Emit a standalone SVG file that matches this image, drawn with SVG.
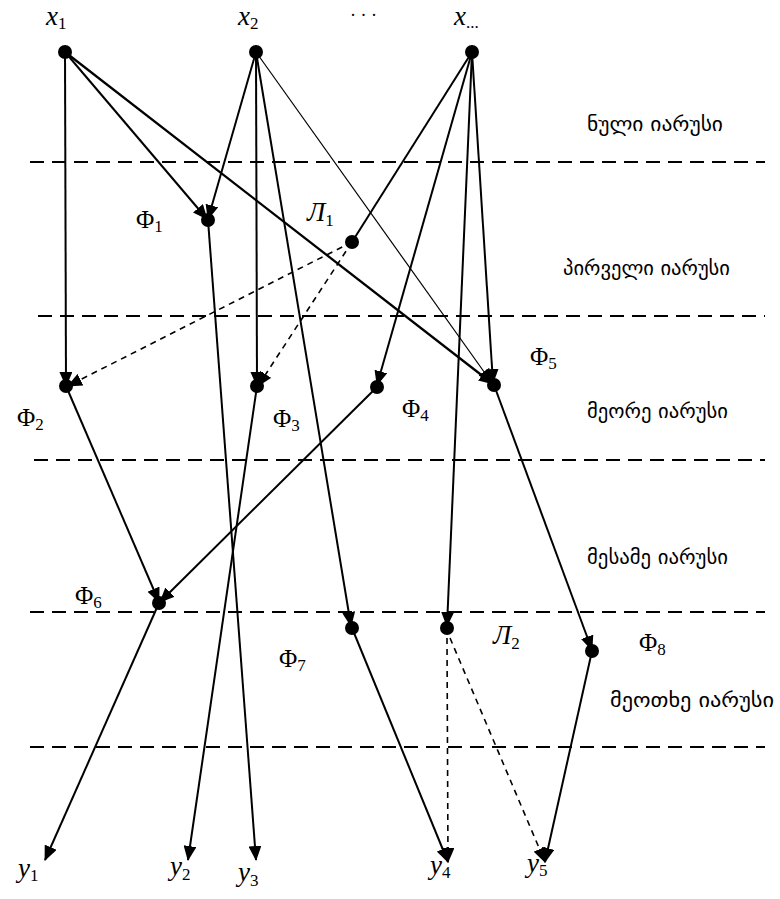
<svg xmlns="http://www.w3.org/2000/svg" width="780" height="899" viewBox="0 0 780 899">
<defs>
<marker id="ah" markerUnits="userSpaceOnUse" markerWidth="15" markerHeight="13" refX="14" refY="6.5" orient="auto"><path d="M0,0 L15,6.5 L0,13 z" fill="#000"/></marker>
<style>
.lvl{stroke:#000;stroke-width:2;stroke-dasharray:14,8;fill:none}
.e{stroke:#000;stroke-width:2;fill:none;marker-end:url(#ah)}
.thin{stroke-width:1.2}
.d{stroke:#000;stroke-width:1.6;stroke-dasharray:6,5;fill:none;marker-end:url(#ah)}
.n{fill:#000}
.m{font-family:"Liberation Serif",serif;font-style:italic;font-size:27px}
.f{font-family:"Liberation Serif",serif;font-size:25px}
.s{font-size:17px;font-style:normal}
.g{font-family:"DejaVu Sans","Noto Sans",sans-serif;font-size:19px}
</style>
</defs>
<rect width="780" height="899" fill="#fff"/>
<g id="levels">
<line class="lvl" x1="30" y1="162" x2="765" y2="162"/>
<line class="lvl" x1="38" y1="316" x2="765" y2="316"/>
<line class="lvl" x1="34" y1="460" x2="765" y2="460"/>
<line class="lvl" x1="30" y1="612" x2="765" y2="612"/>
<line class="lvl" x1="30" y1="747" x2="765" y2="747"/>
<text class="g" x="587" y="131" textLength="136" lengthAdjust="spacingAndGlyphs">ნული  იარუსი</text>
<text class="g" x="563" y="275" textLength="167" lengthAdjust="spacingAndGlyphs">პირველი  იარუსი</text>
<text class="g" x="587" y="418" textLength="141" lengthAdjust="spacingAndGlyphs">მეორე  იარუსი</text>
<text class="g" x="587" y="564" textLength="141" lengthAdjust="spacingAndGlyphs">მესამე  იარუსი</text>
<text class="g" x="610" y="707" textLength="164" lengthAdjust="spacingAndGlyphs">მეოთხე  იარუსი</text>
</g>
<g id="connectors">
<line class="e" x1="65" y1="52" x2="66" y2="386"/>
<line class="e" x1="65" y1="52" x2="207" y2="219"/>
<line class="e" style="stroke-width:2.3" x1="65" y1="52" x2="493" y2="384"/>
<line class="e" x1="256" y1="52" x2="208" y2="219"/>
<line class="e" x1="256" y1="52" x2="257" y2="386"/>
<line class="e" x1="256" y1="52" x2="351" y2="626"/>
<line class="e thin" x1="256" y1="52" x2="492" y2="383"/>
<line class="e" x1="472" y1="52" x2="377" y2="385"/>
<line class="e" x1="472" y1="52" x2="493" y2="383"/>
<line class="e" x1="472" y1="52" x2="447" y2="626"/>
<line stroke="#000" stroke-width="2" x1="472" y1="52" x2="352" y2="242"/>
<line class="d" x1="352" y1="242" x2="68" y2="386"/>
<line class="d" x1="352" y1="242" x2="258" y2="386"/>
<line class="e" x1="208" y1="220" x2="256" y2="860"/>
<line class="e" x1="66" y1="386" x2="159" y2="602"/>
<line class="e" x1="377" y1="387" x2="160" y2="602"/>
<line class="e" x1="257" y1="386" x2="188" y2="860"/>
<line class="e" x1="494" y1="385" x2="592" y2="650"/>
<line class="e" x1="159" y1="603" x2="45" y2="860"/>
<line class="e" x1="352" y1="628" x2="448" y2="862"/>
<line class="d" x1="447" y1="638" x2="448" y2="862"/>
<line class="d" x1="450" y1="638" x2="545" y2="862"/>
<line class="e" x1="592" y1="651" x2="545" y2="862"/>
</g>
<g id="x1"><circle class="n" cx="65" cy="52" r="7"/><text class="m" x="46" y="25">x<tspan class="s" dy="4">1</tspan></text></g>
<g id="x2"><circle class="n" cx="256" cy="52" r="7"/><text class="m" x="238" y="25">x<tspan class="s" dy="4">2</tspan></text></g>
<g id="dots"><text font-family="Liberation Serif, serif" font-size="18" x="350" y="21">· · ·</text></g>
<g id="xm"><circle class="n" cx="472" cy="52" r="7"/><text class="m" x="454" y="25">x<tspan class="s" dy="3">...</tspan></text></g>
<g id="F1"><circle class="n" cx="208" cy="220" r="7"/><text class="f" x="136" y="228">Φ<tspan class="s" dy="4">1</tspan></text></g>
<g id="L1"><circle class="n" cx="352" cy="242" r="7"/><text class="m" x="307" y="221">Л<tspan class="s" dy="5">1</tspan></text></g>
<g id="F2"><circle class="n" cx="66" cy="386" r="7"/><text class="f" x="17" y="426">Φ<tspan class="s" dy="4">2</tspan></text></g>
<g id="F3"><circle class="n" cx="257" cy="386" r="7"/><text class="f" x="273" y="427">Φ<tspan class="s" dy="4">3</tspan></text></g>
<g id="F4"><circle class="n" cx="377" cy="387" r="7"/><text class="f" x="402" y="417">Φ<tspan class="s" dy="4">4</tspan></text></g>
<g id="F5"><circle class="n" cx="494" cy="385" r="7"/><text class="f" x="530" y="365">Φ<tspan class="s" dy="4">5</tspan></text></g>
<g id="F6"><circle class="n" cx="159" cy="603" r="7"/><text class="f" x="75" y="604">Φ<tspan class="s" dy="4">6</tspan></text></g>
<g id="F7"><circle class="n" cx="352" cy="628" r="7"/><text class="f" x="279" y="667">Φ<tspan class="s" dy="4">7</tspan></text></g>
<g id="L2"><circle class="n" cx="447" cy="628" r="7"/><text class="m" x="493" y="644">Л<tspan class="s" dy="5">2</tspan></text></g>
<g id="F8"><circle class="n" cx="592" cy="651" r="7"/><text class="f" x="639" y="651">Φ<tspan class="s" dy="4">8</tspan></text></g>
<g id="y1"><text class="m" x="18" y="877">y<tspan class="s" dy="4">1</tspan></text></g>
<g id="y2"><text class="m" x="170" y="875">y<tspan class="s" dy="5">2</tspan></text></g>
<g id="y3"><text class="m" x="238" y="881">y<tspan class="s" dy="5">3</tspan></text></g>
<g id="y4"><text class="m" x="430" y="874">y<tspan class="s" dy="4">4</tspan></text></g>
<g id="y5"><text class="m" x="527" y="872">y<tspan class="s" dy="4">5</tspan></text></g>
</svg>
